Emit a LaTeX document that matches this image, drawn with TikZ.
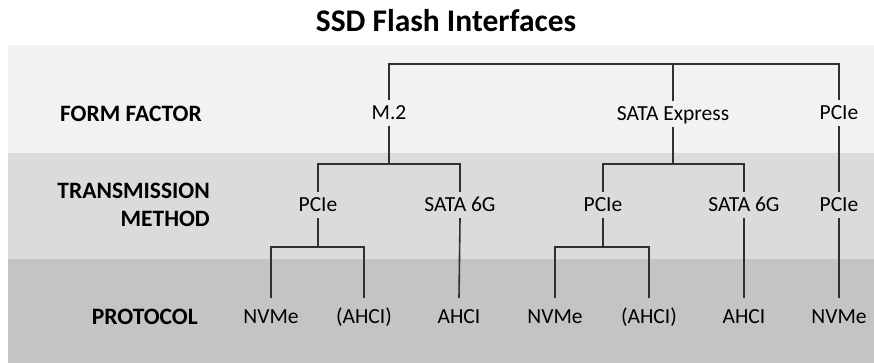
\documentclass[tikz,border=0pt]{standalone}
\usepackage{fontspec}
\setmainfont{Carlito}
\usepackage{xcolor}
\usepackage{tikz}
\definecolor{bandtop}{RGB}{242,242,242}
\definecolor{bandmid}{RGB}{219,219,219}
\definecolor{bandlow}{RGB}{196,196,196}
\definecolor{treegray}{RGB}{48,48,48}

\begin{document}
\begin{tikzpicture}[x=1pt,y=-1pt,
  lvl/.style={font=\fontsize{21.5}{24}\selectfont,inner sep=0pt,text height=13.8pt,text depth=0pt,minimum height=26pt},
  proto/.style={lvl,minimum height=38pt},
  rowlabel/.style={font=\fontsize{23.5}{28}\selectfont\bfseries,inner sep=0pt,align=right,anchor=east},
  tree/.style={treegray,line width=1.6pt}]
  \useasboundingbox (0,0) rectangle (874,363);
  \fill[bandtop] (8,45) rectangle (874,153);
  \fill[bandmid] (8,153) rectangle (874,259);
  \fill[bandlow] (8,259) rectangle (874,363);
  \node[font=\fontsize{31.5}{34}\selectfont\bfseries] (title) at (446,21) {SSD Flash Interfaces};
  \node[rowlabel] (formfactor) at (202,113.5) {FORM FACTOR};
  \node[rowlabel] (transmission) at (210,205) {TRANSMISSION\\METHOD};
  \node[rowlabel] (protocol) at (198,317) {PROTOCOL};
  \node[lvl] (m2) at (389,113) {M.2};
  \node[lvl] (satax) at (673,114) {SATA Express};
  \node[lvl] (pcief) at (839,113) {PCIe};
  \node[lvl] (m2pcie) at (318,205) {PCIe};
  \node[lvl] (m2sata) at (460,205) {SATA 6G};
  \node[lvl] (sxpcie) at (603,205) {PCIe};
  \node[lvl] (sxsata) at (744,205) {SATA 6G};
  \node[lvl] (pcie) at (839,205) {PCIe};
  \node[proto] (m2nvme) at (271,317) {NVMe};
  \node[proto] (m2ahcix) at (364,317) {(AHCI)};
  \node[proto] (m2ahci) at (459,317) {AHCI};
  \node[proto] (sxnvme) at (555,317) {NVMe};
  \node[proto] (sxahcix) at (649,317) {(AHCI)};
  \node[proto] (sxahci) at (744,317) {AHCI};
  \node[proto] (nvme) at (839,317) {NVMe};
  \coordinate (topbus) at (673,64);
  \coordinate (m2split) at (389,164);
  \coordinate (sxsplit) at (673,164);
  \coordinate (m2pciesplit) at (318,247);
  \coordinate (sxpciesplit) at (603,247);
  \draw[tree] (m2.north) |- (topbus) -| (pcief.north);
  \draw[tree] (topbus) -- (satax.north);
  \draw[tree] (m2.south) -- (m2split);
  \draw[tree] (m2pcie.north) |- (m2split) -| (m2sata.north);
  \draw[tree] (satax.south) -- (sxsplit);
  \draw[tree] (sxpcie.north) |- (sxsplit) -| (sxsata.north);
  \draw[tree] (pcief.south) -- (pcie.north);
  \draw[tree] (m2pcie.south) -- (m2pciesplit);
  \draw[tree] (m2nvme.north) |- (m2pciesplit) -| (m2ahcix.north);
  \draw[tree] (m2sata.south) -- (m2ahci.north);
  \draw[tree] (sxpcie.south) -- (sxpciesplit);
  \draw[tree] (sxnvme.north) |- (sxpciesplit) -| (sxahcix.north);
  \draw[tree] (sxsata.south) -- (sxahci.north);
  \draw[tree] (pcie.south) -- (nvme.north);
\end{tikzpicture}
\end{document}
